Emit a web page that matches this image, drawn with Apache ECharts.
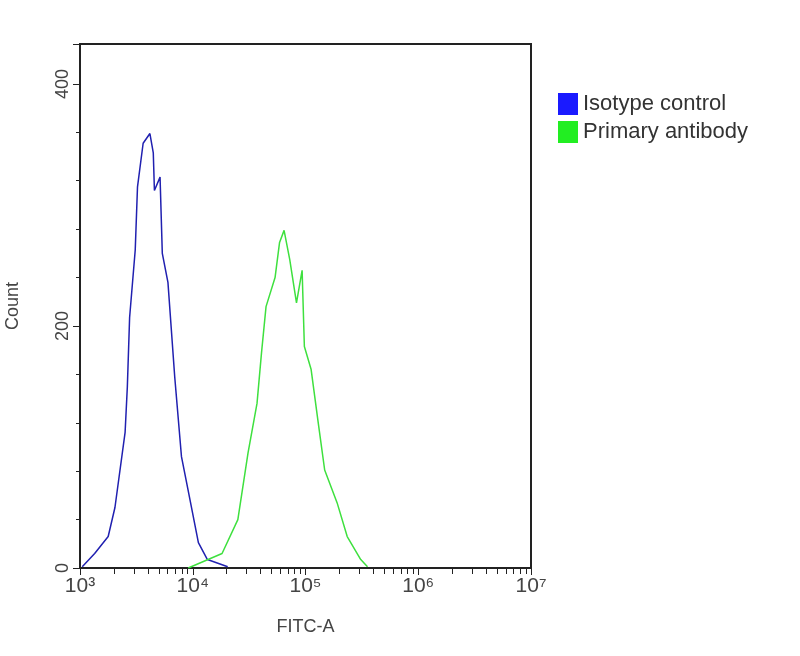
<!DOCTYPE html>
<html><head><meta charset="utf-8">
<script src="https://cdn.jsdelivr.net/npm/echarts@6/dist/echarts.min.js"></script>
<style>html,body{margin:0;background:#fff}#c{width:800px;height:656px}</style>
</head><body><div id="c"></div>
<script>
const isoLog = [3.02,3.13,3.25,3.31,3.40,3.42,3.44,3.49,3.51,3.56,3.62,3.65,3.66,3.71,3.73,3.78,3.84,3.90,3.97,4.05,4.13,4.31];
const isoCount = [1,12,26,50,112,150,207,263,315,351,359,343,312,323,260,236,158,92,59,21,7,1];
const priLog = [3.96,4.26,4.40,4.49,4.57,4.61,4.65,4.73,4.77,4.81,4.86,4.92,4.97,4.99,5.05,5.11,5.17,5.28,5.37,5.49,5.55];
const priCount = [0,12,40,95,136,178,216,240,269,279,255,219,246,183,164,122,81,54,26,7,1];
const seriesNames = ['Isotype control','Primary antibody'];
const sup = {'3':'³','4':'⁴','5':'⁵','6':'⁶','7':'⁷'};
const chart = echarts.init(document.getElementById('c'));
const pts = (l,c)=>l.map((v,i)=>[Math.pow(10,v),c[i]]);
chart.setOption({
  animation:false,
  grid:{left:80,right:269,top:44,bottom:88,containLabel:false,outerBoundsMode:'none'},
  legend:{left:553,top:88,orient:'vertical',itemWidth:20,itemHeight:22,itemGap:6,icon:'rect',
    textStyle:{fontSize:22,color:'#333',fontFamily:'Liberation Sans Narrow, Liberation Sans'}},
  xAxis:{type:'log',min:1000,max:1e7,logBase:10,name:'FITC-A',nameLocation:'middle',nameGap:50,
    nameTextStyle:{fontSize:18,color:'#444'},
    axisLine:{show:true,lineStyle:{color:'#222',width:2}},axisTick:{length:7,lineStyle:{color:'#222'}},
    minorTick:{show:true,splitNumber:9,length:6,lineStyle:{color:'#222'}},
    splitLine:{show:false},
    axisLabel:{fontSize:21,color:'#444',formatter:v=>'10'+sup[String(Math.round(Math.log10(v)))]}},
  yAxis:{type:'value',min:0,max:433,interval:200,name:'Count',nameLocation:'middle',nameGap:58,
    nameTextStyle:{fontSize:18,color:'#444'},
    axisLine:{show:true,lineStyle:{color:'#222',width:2}},axisTick:{show:true,length:7,lineStyle:{color:'#222'}},
    minorTick:{show:true,splitNumber:5,length:4},
    splitLine:{show:false},
    axisLabel:{fontSize:18,color:'#444',rotate:90,showMaxLabel:false}},
  series:[
    {name:seriesNames[0],type:'line',data:pts(isoLog,isoCount),symbol:'none',itemStyle:{color:'#1a1aff'},lineStyle:{color:'#2020b0',width:1.5}},
    {name:seriesNames[1],type:'line',data:pts(priLog,priCount),symbol:'none',itemStyle:{color:'#22ee22'},lineStyle:{color:'#3ee03e',width:1.5}}
  ],
  graphic:[{type:'rect',shape:{x:80,y:44,width:451,height:524},style:{fill:'none',stroke:'#222',lineWidth:2},silent:true}]
});
</script></body></html>
